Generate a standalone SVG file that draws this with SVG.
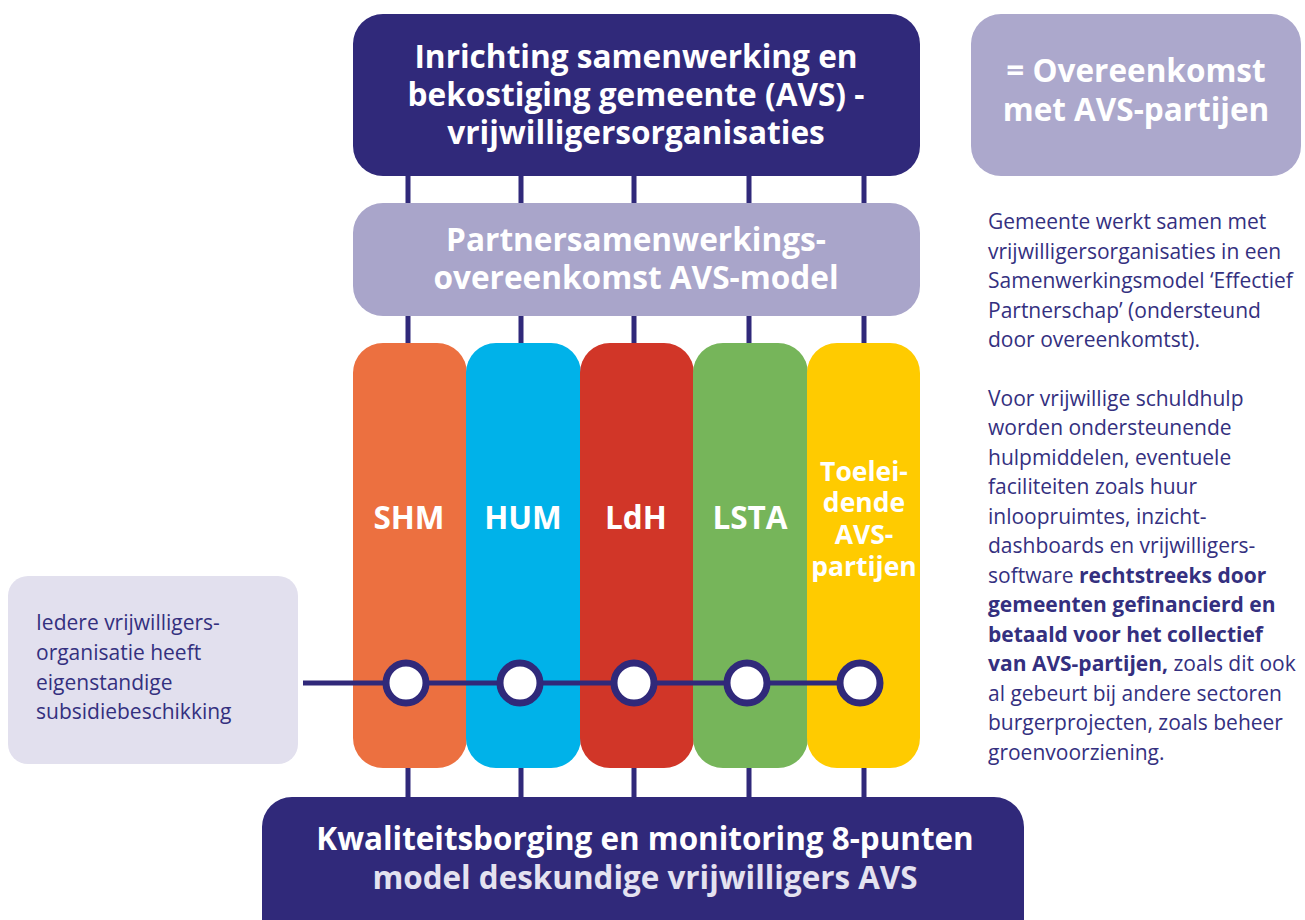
<svg xmlns="http://www.w3.org/2000/svg" width="1305" height="920" viewBox="0 0 1305 920">
<style>
.t{font-family:"Open Sans","Noto Sans","Liberation Sans",sans-serif;}
.b{font-weight:700;}
.w{fill:#ffffff;}
.ind{fill:#30297a;}
.body{font-size:21px;fill:#34307f;}
.ln{stroke:#30297a;stroke-width:5;fill:none;}
.ring{fill:#ffffff;stroke:#30297a;stroke-width:7;}
</style>
<rect width="1305" height="920" fill="#ffffff"/>
<g id="connectors">
<path class="ln" d="M408 176V203M521 176V203M634 176V203M749 176V203M864 176V203"/>
<path class="ln" d="M408 316V343M521 316V343M634 316V343M749 316V343M864 316V343"/>
<path class="ln" d="M408 768V797M521 768V797M634 768V797M749 768V797M864 768V797"/>
</g>
<g id="top">
<rect x="353" y="14" width="567" height="162" rx="30" class="ind"/>
<text class="t b w" font-size="31.6" text-anchor="middle"><tspan x="636" y="68">Inrichting samenwerking en</tspan><tspan x="636" y="106">bekostiging gemeente (AVS) -</tspan><tspan x="636" y="144">vrijwilligersorganisaties</tspan></text>
</g>
<g id="middle">
<rect x="353" y="203" width="567" height="113" rx="30" fill="#a9a5ca"/>
<text class="t b w" font-size="31.6" text-anchor="middle"><tspan x="636" y="251">Partnersamenwerkings-</tspan><tspan x="636" y="289">overeenkomst AVS-model</tspan></text>
</g>
<g id="legend">
<rect x="971" y="14" width="330" height="162" rx="30" fill="#aca8cc"/>
<text class="t b w" font-size="31.5" text-anchor="middle"><tspan x="1136" y="82">= Overeenkomst</tspan><tspan x="1136" y="121">met AVS-partijen</tspan></text>
</g>
<g id="col-shm">
<rect x="353" y="343" width="114" height="425" rx="30" fill="#ec7040"/>
<text class="t b w" font-size="31.5" text-anchor="middle" x="409" y="529">SHM</text>
</g>
<g id="col-hum">
<rect x="466" y="343" width="115" height="425" rx="30" fill="#00b2e9"/>
<text class="t b w" font-size="31.5" text-anchor="middle" x="523" y="529">HUM</text>
</g>
<g id="col-ldh">
<rect x="580" y="343" width="114" height="425" rx="30" fill="#d13628"/>
<text class="t b w" font-size="31.5" text-anchor="middle" x="636" y="529">LdH</text>
</g>
<g id="col-lsta">
<rect x="693" y="343" width="115" height="425" rx="30" fill="#76b55a"/>
<text class="t b w" font-size="31.5" text-anchor="middle" x="750" y="529">LSTA</text>
</g>
<g id="col-toeleidende">
<rect x="807" y="343" width="113" height="425" rx="30" fill="#ffcb00"/>
<text class="t b w" font-size="26.5" text-anchor="middle"><tspan x="864" y="481">Toelei-</tspan><tspan x="864" y="512">dende</tspan><tspan x="864" y="544">AVS-</tspan><tspan x="864" y="576">partijen</tspan></text>
</g>
<g id="subsidie-line">
<path class="ln" d="M303 683H860"/>
<circle class="ring" cx="406" cy="683" r="20"/>
<circle class="ring" cx="520" cy="683" r="20"/>
<circle class="ring" cx="634" cy="683" r="20"/>
<circle class="ring" cx="747" cy="683" r="20"/>
<circle class="ring" cx="860" cy="683" r="20"/>
</g>
<g id="subsidie-box">
<rect x="8" y="576" width="290" height="188" rx="20" fill="#e2e0ee"/>
<text class="t body"><tspan x="36" y="630">Iedere vrijwilligers-</tspan><tspan x="36" y="660">organisatie heeft</tspan><tspan x="36" y="690">eigenstandige</tspan><tspan x="36" y="719">subsidiebeschikking</tspan></text>
</g>
<g id="bottom">
<rect x="262" y="797" width="762" height="123" rx="30" class="ind"/>
<rect x="262" y="860" width="762" height="60" class="ind"/>
<text class="t b" font-size="31.4" text-anchor="middle"><tspan x="645" y="850" fill="#ffffff">Kwaliteitsborging en monitoring 8-punten</tspan><tspan x="645" y="889" fill="#e4e2f0">model deskundige vrijwilligers AVS</tspan></text>
</g>
<g id="notes">
<text class="t body"><tspan x="988" y="229">Gemeente werkt samen met</tspan><tspan x="988" y="259">vrijwilligersorganisaties in een</tspan><tspan x="988" y="288">Samenwerkingsmodel ‘Effectief</tspan><tspan x="988" y="318">Partnerschap’ (ondersteund</tspan><tspan x="988" y="347">door overeenkomtst).</tspan></text>
<text class="t body"><tspan x="988" y="406">Voor vrijwillige schuldhulp</tspan><tspan x="988" y="435">worden ondersteunende</tspan><tspan x="988" y="465">hulpmiddelen, eventuele</tspan><tspan x="988" y="494">faciliteiten zoals huur</tspan><tspan x="988" y="524">inloopruimtes, inzicht-</tspan><tspan x="988" y="553">dashboards en vrijwilligers-</tspan><tspan x="988" y="583">software <tspan class="b">rechtstreeks door</tspan></tspan><tspan x="988" y="612" class="b">gemeenten gefinancierd en</tspan><tspan x="988" y="642" class="b">betaald voor het collectief</tspan><tspan x="988" y="671"><tspan class="b">van AVS-partijen,</tspan> zoals dit ook</tspan><tspan x="988" y="701">al gebeurt bij andere sectoren</tspan><tspan x="988" y="730">burgerprojecten, zoals beheer</tspan><tspan x="988" y="760">groenvoorziening.</tspan></text>
</g>
</svg>
